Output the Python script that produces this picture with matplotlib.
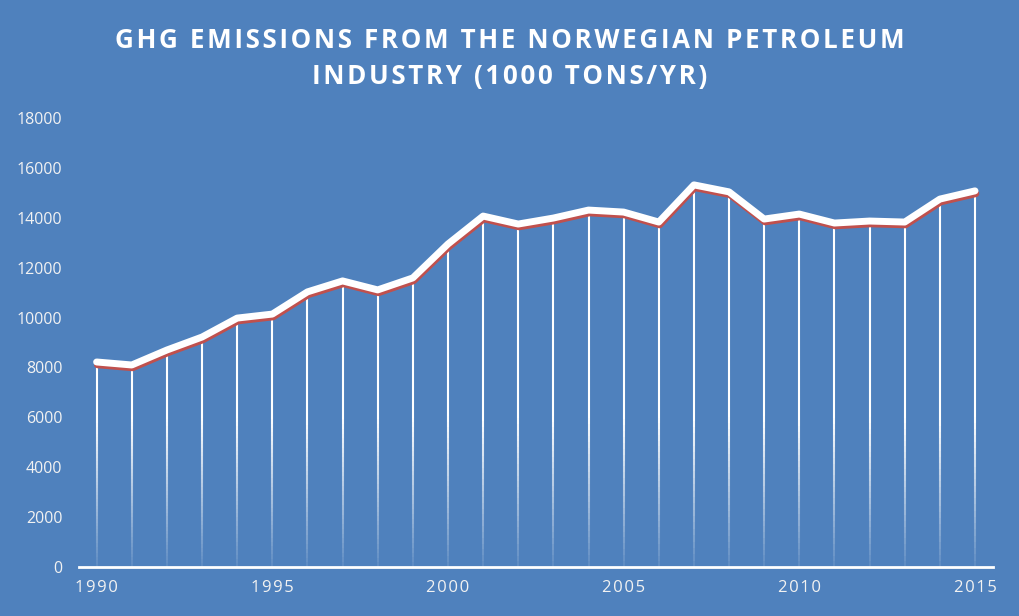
import numpy as np
import matplotlib
matplotlib.use("Agg")
import matplotlib.pyplot as plt
import matplotlib.patheffects as pe
from matplotlib.collections import LineCollection

years = list(range(1990, 2016))
emissions = [8220, 8100, 8700, 9220, 9980, 10140, 11030, 11470, 11110, 11590,
             12950, 14070, 13750, 13990, 14310, 14230, 13830, 15320, 15040, 13950,
             14150, 13790, 13870, 13830, 14750, 15080]
xtick_years = [1990, 1995, 2000, 2005, 2010, 2015]
yticks = list(range(0, 18001, 2000))
title = "GHG EMISSIONS FROM THE NORWEGIAN PETROLEUM\nINDUSTRY (1000 TONS/YR)"

bg = "#4F81BD"
txt = "#F2F2F2"
HS = "\u200a"  # hair space, used as letter spacing


def spaced(s):
    return "\n".join(HS.join(line) for line in s.split("\n"))


fig = plt.figure(figsize=(10.2, 6.16), dpi=100, facecolor=bg)
ax = fig.add_axes([0.0775, 0.0795, 0.8956, 0.7289], facecolor=bg)

# drop lines: solid near the top, fading out toward the axis
segs, cols = [], []
for x, v in zip(years, emissions):
    n = 60
    ys = np.linspace(0, v, n + 1)
    for i in range(n):
        mid = (ys[i] + ys[i + 1]) / 2
        a = min(1.0, 0.08 + mid / 6500)
        segs.append([(x, ys[i]), (x, ys[i + 1])])
        cols.append((1, 1, 1, a))
ax.add_collection(LineCollection(segs, colors=cols, linewidths=1.5, capstyle="butt"))

ax.plot(years, emissions, color="white", lw=5, solid_joinstyle="round",
        solid_capstyle="round", zorder=3,
        path_effects=[pe.SimpleLineShadow(offset=(0.6, -2.0), shadow_color="#C0504D", alpha=1),
                      pe.Normal()])

ax.set_xlim(1989.5, 2015.5)
ax.set_ylim(0, 18000)
ax.set_yticks(yticks)
ax.set_yticklabels([str(t) for t in yticks])
ax.set_xticks(xtick_years)
ax.set_xticklabels([spaced(str(t)) for t in xtick_years])
ax.tick_params(length=0, colors=txt, labelsize=12)
ax.tick_params(axis="y", pad=12, labelsize=11.5)
ax.tick_params(axis="x", pad=9)
for lbl in ax.get_xticklabels() + ax.get_yticklabels():
    lbl.set_fontfamily(["Open Sans", "DejaVu Sans"])
for s in ["top", "right", "left"]:
    ax.spines[s].set_visible(False)
ax.spines["bottom"].set_color("white")
ax.spines["bottom"].set_linewidth(2)

fig.text(0.5, 0.905, spaced(title),
         ha="center", va="center", color="white", fontsize=18.7, fontweight="bold",
         fontfamily=["Open Sans", "DejaVu Sans"], linespacing=1.4)

fig.savefig("out.png", dpi=100, facecolor=bg)
